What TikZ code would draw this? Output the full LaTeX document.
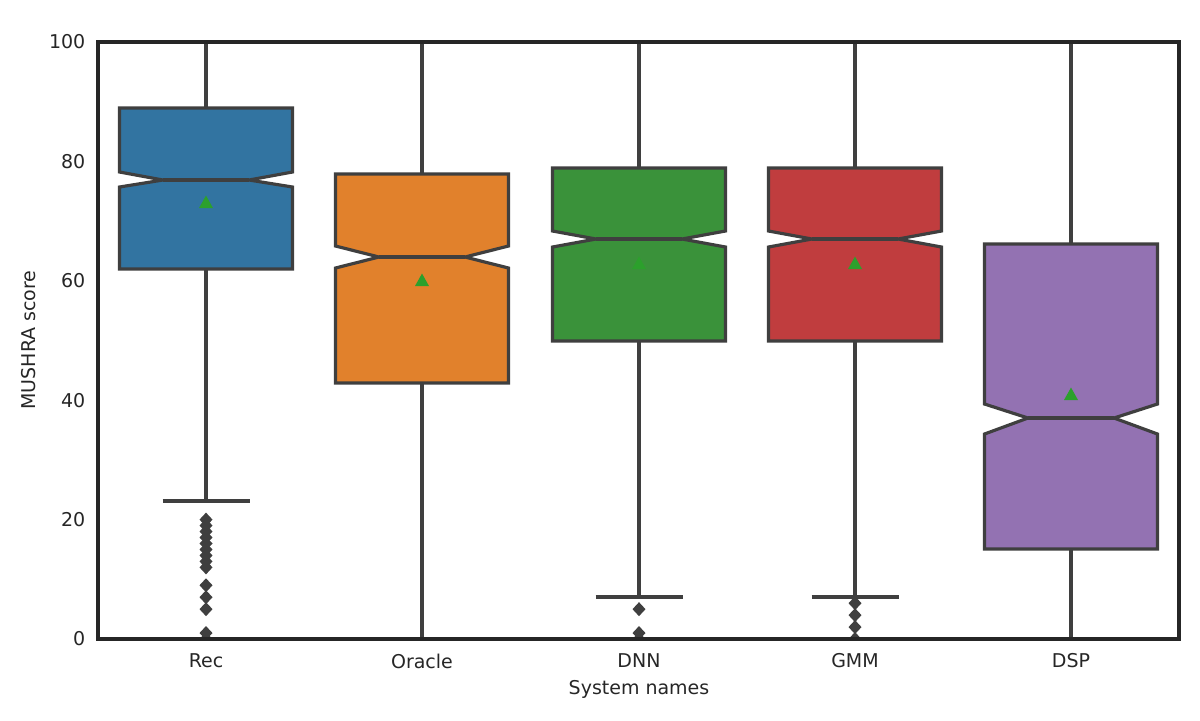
\documentclass[tikz,border=0pt]{standalone}
\usepackage{fontspec}
\setmainfont{DejaVu Sans}
\definecolor{cA}{HTML}{3274A1}
\definecolor{cB}{HTML}{E1812C}
\definecolor{cC}{HTML}{3A923A}
\definecolor{cD}{HTML}{C03D3E}
\definecolor{cE}{HTML}{9372B2}
\definecolor{ln}{HTML}{3F3F3F}
\definecolor{ax}{HTML}{262626}
\definecolor{mn}{HTML}{2CA02C}
% #1 x, #2 Q3 y, #3 notch hi y, #4 median y, #5 notch lo y, #6 Q1 y, #7 whisker top, #8 whisker bottom, #9 colour
\newcommand\mybox[9]{%
  \draw[ln,line width=0.9pt] (#1,#2)--(#1,#7) (#1,#6)--(#1,#8);
  \draw[ln,line width=0.9pt,fill=#9] (#1-86.5,#6)--(#1-86.5,#5)--(#1-43,#4)--(#1-86.5,#3)--(#1-86.5,#2)
    --(#1+86.5,#2)--(#1+86.5,#3)--(#1+43,#4)--(#1+86.5,#5)--(#1+86.5,#6)--cycle;
  \draw[ln,line width=0.9pt] (#1-43,#4)--(#1+43,#4);
}
\newcommand\mycap[2]{\draw[ln,line width=0.9pt] (#1-43.5,#2)--(#1+43.5,#2);}
\newcommand\mydia[2]{\fill[ln] (#1,#2-7)--(#1+6.5,#2)--(#1,#2+7)--(#1-6.5,#2)--cycle;}
\newcommand\mymean[2]{\fill[mn] (#1,#2-7.5)--(#1+7,#2+5)--(#1-7,#2+5)--cycle;}
\begin{document}
\begin{tikzpicture}[x=0.01cm,y=-0.01cm,font=\fontsize{5.4}{6.5}\selectfont,
  lab/.style={text=ax,inner sep=0pt}]
\useasboundingbox (0,0) rectangle (1200,720);
\begin{scope}
\clip (98,42) rectangle (1179,639);
\mybox{206}{108}{172}{180}{187}{269}{42}{501}{cA}
\mycap{206}{501}
\foreach \v in {20,19,18,17,16,15,14,13,12,9,7,5,1,0}{\mydia{206}{639-5.97*\v}}
\mymean{206}{203}
\mybox{422}{174}{246}{257}{268}{383}{42}{639}{cB}
\mymean{422}{281}
\mybox{639}{168}{231}{239}{247}{341}{42}{597}{cC}
\mycap{639}{597}
\foreach \v in {5,1,0}{\mydia{639}{639-5.97*\v}}
\mymean{639}{264}
\mybox{855}{168}{231}{239}{247}{341}{42}{597}{cD}
\mycap{855}{597}
\foreach \v in {6,4,2,0}{\mydia{855}{639-5.97*\v}}
\mymean{855}{264}
\mybox{1071}{244}{404}{418}{434}{549}{42}{639}{cE}
\mymean{1071}{395}
\end{scope}
\draw[ax,line width=1.3pt] (98,42) rectangle (1179,639);
\foreach \v in {0,20,40,60,80,100}{\node[lab,anchor=east] (y\v) at (86,639-5.97*\v) {\v};}
\foreach \x/\t in {206/Rec,422/Oracle,639/DNN,855/GMM,1071/DSP}{\node[lab] (x\t) at (\x,661) {\t};}
\node[lab] (xl) at (639,689) {System names};
\node[lab,rotate=90] (yl) at (29,340) {MUSHRA score};
\end{tikzpicture}
\end{document}
